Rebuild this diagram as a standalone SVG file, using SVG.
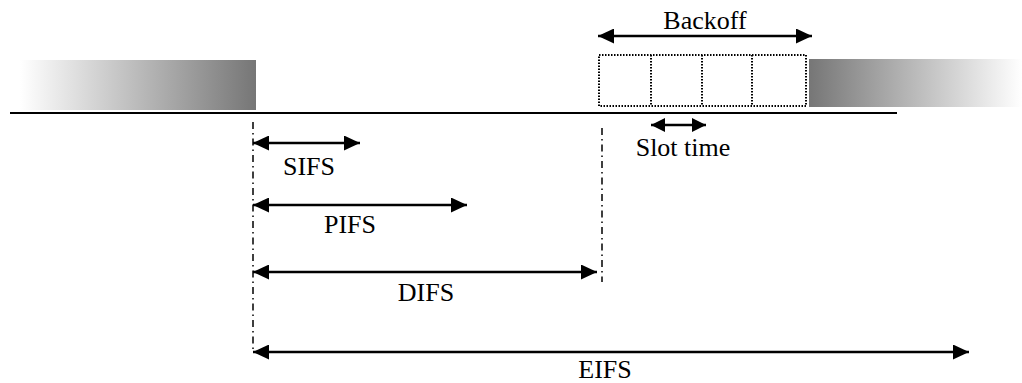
<svg xmlns="http://www.w3.org/2000/svg" width="1022" height="383" viewBox="0 0 1022 383">
  <defs>
    <linearGradient id="fadeIn" x1="0" y1="0" x2="1" y2="0">
      <stop offset="0" stop-color="#ffffff"/>
      <stop offset="1" stop-color="#767676"/>
    </linearGradient>
    <linearGradient id="fadeOut" x1="0" y1="0" x2="1" y2="0">
      <stop offset="0" stop-color="#767676"/>
      <stop offset="1" stop-color="#ffffff"/>
    </linearGradient>
    <marker id="head" viewBox="0 0 16 15" refX="16" refY="7.5" markerWidth="16" markerHeight="15" markerUnits="userSpaceOnUse" orient="auto-start-reverse">
      <path d="M0,0 L16,7.5 L0,15 Z" fill="#000"/>
    </marker>
    <marker id="headSmall" viewBox="0 0 14 14" refX="14" refY="7" markerWidth="14" markerHeight="14" markerUnits="userSpaceOnUse" orient="auto-start-reverse">
      <path d="M0,0 L14,7 L0,14 Z" fill="#000"/>
    </marker>
  </defs>
  <style>
    .lbl { font-family: "Liberation Serif", "Times New Roman", serif; font-size: 26px; fill: #000; text-anchor: middle; }
    .dim { stroke: #000; stroke-width: 2.5; fill: none; marker-start: url(#head); marker-end: url(#head); }
    .dimSmall { stroke: #000; stroke-width: 2.5; fill: none; marker-start: url(#headSmall); marker-end: url(#headSmall); }
    .mark { stroke: #000; stroke-width: 1.5; stroke-dasharray: 7 4 1.5 4; fill: none; }
    .slot { stroke: #000; stroke-width: 2; stroke-dasharray: 1.5 1.5; fill: none; }
  </style>

  <!-- medium busy periods -->
  <g id="frame-before">
    <rect x="20" y="60" width="236" height="50" fill="url(#fadeIn)"/>
  </g>
  <g id="frame-after">
    <rect x="809" y="59" width="213" height="48" fill="url(#fadeOut)"/>
  </g>

  <!-- time axis -->
  <g id="axis">
    <line x1="10" y1="113" x2="897" y2="113" stroke="#000" stroke-width="2"/>
  </g>

  <!-- backoff slots -->
  <g id="backoff-window">
    <rect class="slot" x="599" y="55" width="207" height="51"/>
    <line class="slot" x1="651" y1="55" x2="651" y2="106"/>
    <line class="slot" x1="702" y1="55" x2="702" y2="106"/>
    <line class="slot" x1="752" y1="55" x2="752" y2="106"/>
  </g>

  <!-- reference markers -->
  <g id="markers">
    <line class="mark" x1="253" y1="122" x2="253" y2="352"/>
    <line class="mark" x1="602" y1="128" x2="602" y2="282"/>
  </g>

  <!-- interval arrows -->
  <g id="connectors">
    <line class="dim" x1="598" y1="36" x2="812" y2="36"/>
    <line class="dimSmall" x1="651" y1="125" x2="706" y2="125"/>
    <line class="dim" x1="253" y1="143" x2="360" y2="143"/>
    <line class="dim" x1="253" y1="205" x2="467" y2="205"/>
    <line class="dim" x1="253" y1="272" x2="597" y2="272"/>
    <line class="dim" x1="253" y1="352" x2="969" y2="352"/>
  </g>

  <!-- labels -->
  <g id="label-backoff"><text class="lbl" x="705" y="29">Backoff</text></g>
  <g id="label-slot"><text class="lbl" x="683" y="156">Slot time</text></g>
  <g id="label-sifs"><text class="lbl" x="309" y="175">SIFS</text></g>
  <g id="label-pifs"><text class="lbl" x="350" y="233">PIFS</text></g>
  <g id="label-difs"><text class="lbl" x="426" y="301">DIFS</text></g>
  <g id="label-eifs"><text class="lbl" x="605" y="378">EIFS</text></g>
</svg>
